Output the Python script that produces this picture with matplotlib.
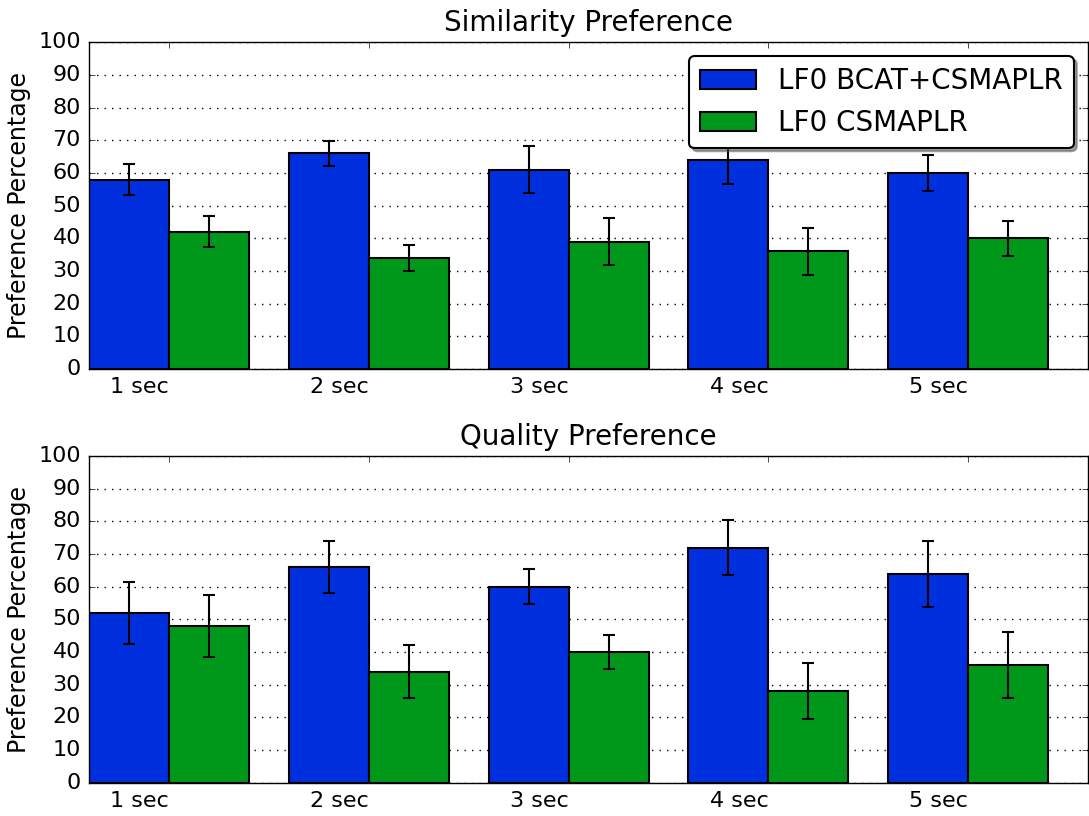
import numpy as np
import matplotlib
matplotlib.use("Agg")
import matplotlib.pyplot as plt

plt.style.use("classic")

# data
sec_labels = ["1 sec", "2 sec", "3 sec", "4 sec", "5 sec"]
series_names = ["LF0 BCAT+CSMAPLR", "LF0 CSMAPLR"]

sim_bcat = [58, 66, 61, 64, 60]
sim_csm = [42, 34, 39, 36, 40]
sim_err = [4.8, 3.9, 7.2, 7.3, 5.4]

qual_bcat = [52, 66, 60, 72, 64]
qual_csm = [48, 34, 40, 28, 36]
qual_err = [9.5, 8.0, 5.3, 8.5, 10.1]

blue = "#0030DE"
green = "#00981A"
width = 0.4


def pref_plot(ax, bcat, csm, err, title, legend=False):
    ind = np.arange(len(sec_labels))
    ax.bar(ind, bcat, width, align="edge", color=blue, edgecolor="black",
           linewidth=1.5, label=series_names[0])
    ax.bar(ind + width, csm, width, align="edge", color=green, edgecolor="black",
           linewidth=1.5, label=series_names[1])
    ax.errorbar(ind + width / 2, bcat, yerr=err, fmt="none", ecolor="black",
                elinewidth=1.5, capsize=4, capthick=1.5)
    ax.errorbar(ind + 1.5 * width, csm, yerr=err, fmt="none", ecolor="black",
                elinewidth=1.5, capsize=4, capthick=1.5)
    ax.set_xlim(0, len(sec_labels))
    ax.set_ylim(0, 100)
    ax.set_yticks(range(0, 101, 10))
    ax.set_xticks(ind + width)
    ax.set_xticklabels(sec_labels, ha="right")
    ax.tick_params(labelsize=16, pad=6)
    ax.set_axisbelow(True)
    ax.yaxis.grid(True, color="black", linewidth=1, dashes=(1, 4.4))
    ax.xaxis.grid(False)
    ax.set_ylabel("Preference Percentage", fontsize=17)
    ax.set_title(title, fontsize=20, pad=8)
    if legend:
        leg = ax.legend(loc="upper right", fontsize=20, shadow=True, fancybox=True,
                        handlelength=2.0, framealpha=1)
        leg.get_frame().set_linewidth(1.5)


fig = plt.figure(figsize=(10.89, 8.16), dpi=100, facecolor="white")
ax1 = fig.add_axes([0.082, 0.548, 0.917, 0.400])
ax2 = fig.add_axes([0.082, 0.041, 0.917, 0.400])

pref_plot(ax1, sim_bcat, sim_csm, sim_err, "Similarity Preference", legend=True)
pref_plot(ax2, qual_bcat, qual_csm, qual_err, "Quality Preference")

fig.savefig("out.png", dpi=100, facecolor="white")
